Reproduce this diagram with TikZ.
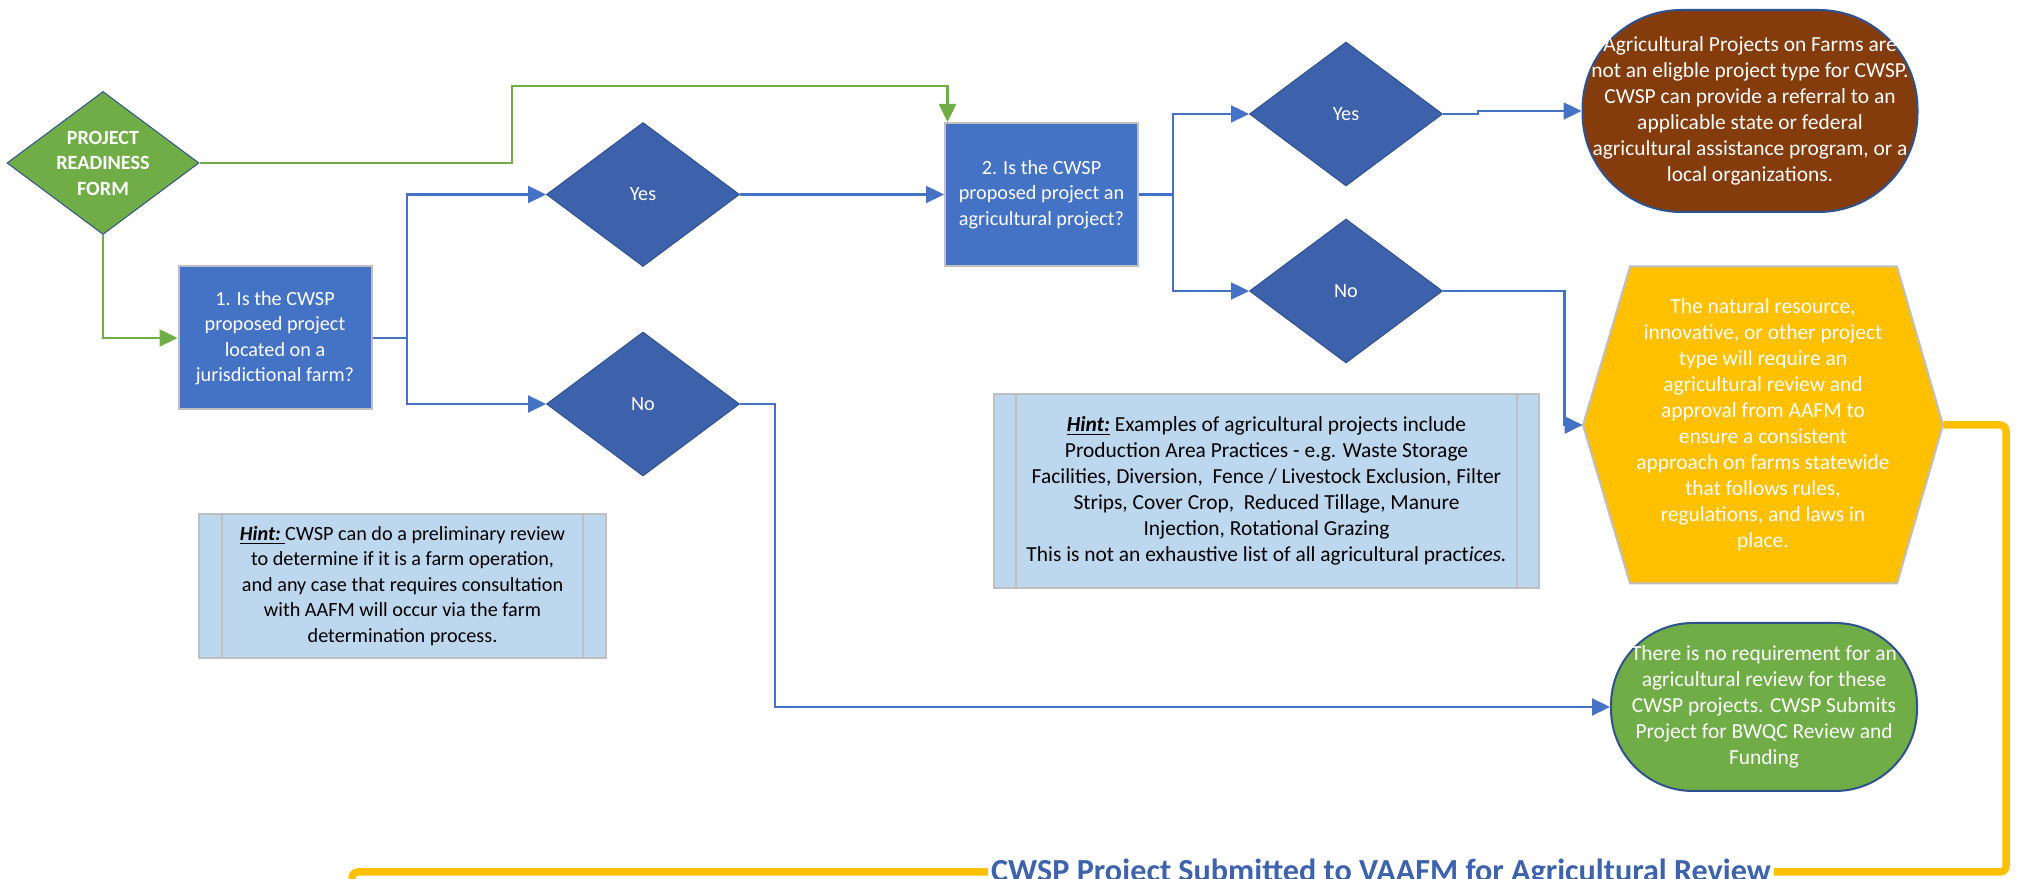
\documentclass[tikz,border=0pt]{standalone}
\usepackage{fontspec}
\setmainfont{Carlito}
\usetikzlibrary{shapes.geometric,arrows.meta}
\definecolor{cblue}{HTML}{4472C4}
\definecolor{dblue}{HTML}{3D62AB}
\definecolor{edge}{HTML}{2F528F}
\definecolor{cgreen}{HTML}{70AD47}
\definecolor{cbrown}{HTML}{843C0C}
\definecolor{cyellow}{HTML}{FFC000}
\definecolor{hintblue}{HTML}{BDD7EE}
\definecolor{cgray}{HTML}{BFBFBF}
\definecolor{titleblue}{HTML}{3C63AC}
\begin{document}
\begin{tikzpicture}[>={Triangle[length=0.36cm,width=0.34cm]},
  txt/.style={font=\fontsize{11.5}{14.5}\selectfont,align=center},
  bigtxt/.style={font=\fontsize{12.2}{14.8}\selectfont,align=center},
  question/.style={txt,rectangle,fill=cblue,draw=cgray,line width=0.04cm,text=white,minimum width=3.86cm,minimum height=2.86cm},
  decision/.style={txt,diamond,fill=dblue,draw=edge,line width=0.02cm,text=white,minimum width=3.86cm,minimum height=2.88cm,inner sep=0pt},
  terminal/.style={rectangle,draw=edge,line width=0.04cm,text=white,inner sep=0pt},
  hint/.style={rectangle,fill=hintblue,draw=cgray,line width=0.04cm},
  blueline/.style={cblue,line width=0.045cm},
  greenline/.style={cgreen,line width=0.05cm}]
\useasboundingbox (0,0) rectangle (40.44,17.58);
\clip (0,0) rectangle (40.44,17.58);

\node[decision,fill=cgreen,minimum width=3.84cm,minimum height=2.86cm,
  label={[txt,text=white,font=\fontsize{11.5}{14.5}\selectfont\bfseries]center:{PROJECT\\READINESS\\FORM}}] (prf) at (2.06,14.32) {};
\node[question] (q1) at (5.5,10.82) {1. Is the CWSP\\proposed project\\located on a\\jurisdictional farm?};
\node[decision] (yes1) at (12.86,13.69) {Yes};
\node[decision] (no1) at (12.86,9.5) {No};
\node[question] (q2) at (20.83,13.69) {2. Is the CWSP\\proposed project an\\agricultural project?};
\node[decision] (yes2) at (26.92,15.3) {Yes};
\node[decision] (no2) at (26.92,11.76) {No};
\node[terminal,bigtxt,fill=cbrown,rounded corners=1.98cm,minimum width=6.7cm,minimum height=4.04cm] (agri) at (35.0,15.36)
  {Agricultural Projects on Farms are\\not an eligble project type for CWSP.\\CWSP can provide a referral to an\\applicable state or federal\\agricultural assistance program, or a\\local organizations.};
\fill[cyellow,draw=cgray,line width=0.04cm] (31.66,9.08) -- ++(0.94,3.17) -- ++(5.34,0) -- ++(0.92,-3.17) -- ++(-0.92,-3.17) -- ++(-5.34,0) -- cycle;
\node[bigtxt,text=white,minimum width=7.2cm,minimum height=6.34cm] (review) at (35.26,9.08)
  {The natural resource,\\innovative, or other project\\type will require an\\agricultural review and\\approval from AAFM to\\ensure a consistent\\approach on farms statewide\\that follows rules,\\regulations, and laws in\\place.};
\node[terminal,bigtxt,fill=cgreen,rounded corners=1.64cm,minimum width=6.12cm,minimum height=3.36cm] (funding) at (35.28,3.44)
  {There is no requirement for an\\agricultural review for these\\CWSP projects. CWSP Submits\\Project for BWQC Review and\\Funding};
\node[hint,txt,minimum width=8.14cm,minimum height=2.88cm] (hint1) at (8.05,5.86)
  {\underline{\textbf{\textit{Hint:}}\ }CWSP can do a preliminary review\\to determine if it is a farm operation,\\and any case that requires consultation\\with AAFM will occur via the farm\\determination process.};
\node[hint,bigtxt,minimum width=10.9cm,minimum height=3.88cm] (hint2) at (25.33,7.76)
  {\underline{\textbf{\textit{Hint:}}} Examples of agricultural projects include\\Production Area Practices - e.g. Waste Storage\\Facilities, Diversion,\ \ Fence / Livestock Exclusion, Filter\\Strips, Cover Crop,\ \ Reduced Tillage, Manure\\Injection, Rotational Grazing\\This is not an exhaustive list of all agricultural pract\textit{ices.}};
\foreach \h/\d in {hint1/0.48,hint2/0.46}{
  \draw[cgray,line width=0.04cm] ([xshift=\d cm]\h.north west) -- ([xshift=\d cm]\h.south west);
  \draw[cgray,line width=0.04cm] ([xshift=-\d cm]\h.north east) -- ([xshift=-\d cm]\h.south east);
}

\coordinate (g1) at (10.24,15.86);
\draw[greenline,->] (prf.east) -| (g1) -| ([xshift=0.07cm]q2.north west);
\draw[greenline,->] (prf.south) |- (q1.west);
\coordinate (s1) at (8.14,10.82);
\draw[blueline] (q1.east) -- (s1);
\draw[blueline,->] (s1) |- (yes1.west);
\draw[blueline,->] (s1) |- (no1.west);
\draw[blueline,->] (yes1.east) -- (q2.west);
\draw[blueline,->] (no1.east) -- ++(0.7,0) |- (funding.west);
\coordinate (s2) at (23.46,13.69);
\draw[blueline] (q2.east) -- (s2);
\draw[blueline,->] (s2) |- (yes2.west);
\draw[blueline,->] (s2) |- (no2.west);
\draw[blueline,->] (yes2.east) -- ++(0.7,0) |- (agri.west);
\draw[blueline,->] (no2.east) -- ++(2.43,0) |- (review.west);

\coordinate (off) at (7.04,-0.8);
\draw[cyellow,line width=0.15cm,rounded corners=0.12cm] (review.east) -- (40.12,9.08) |- (7.04,0.14) -- (off);
\node[fill=white,inner xsep=0.06cm,inner ysep=0.02cm,anchor=base,text=titleblue,font=\fontsize{18.3}{21}\selectfont\bfseries] (title) at (27.62,-0.06)
  {CWSP Project Submitted to VAAFM for Agricultural Review};
\end{tikzpicture}
\end{document}
